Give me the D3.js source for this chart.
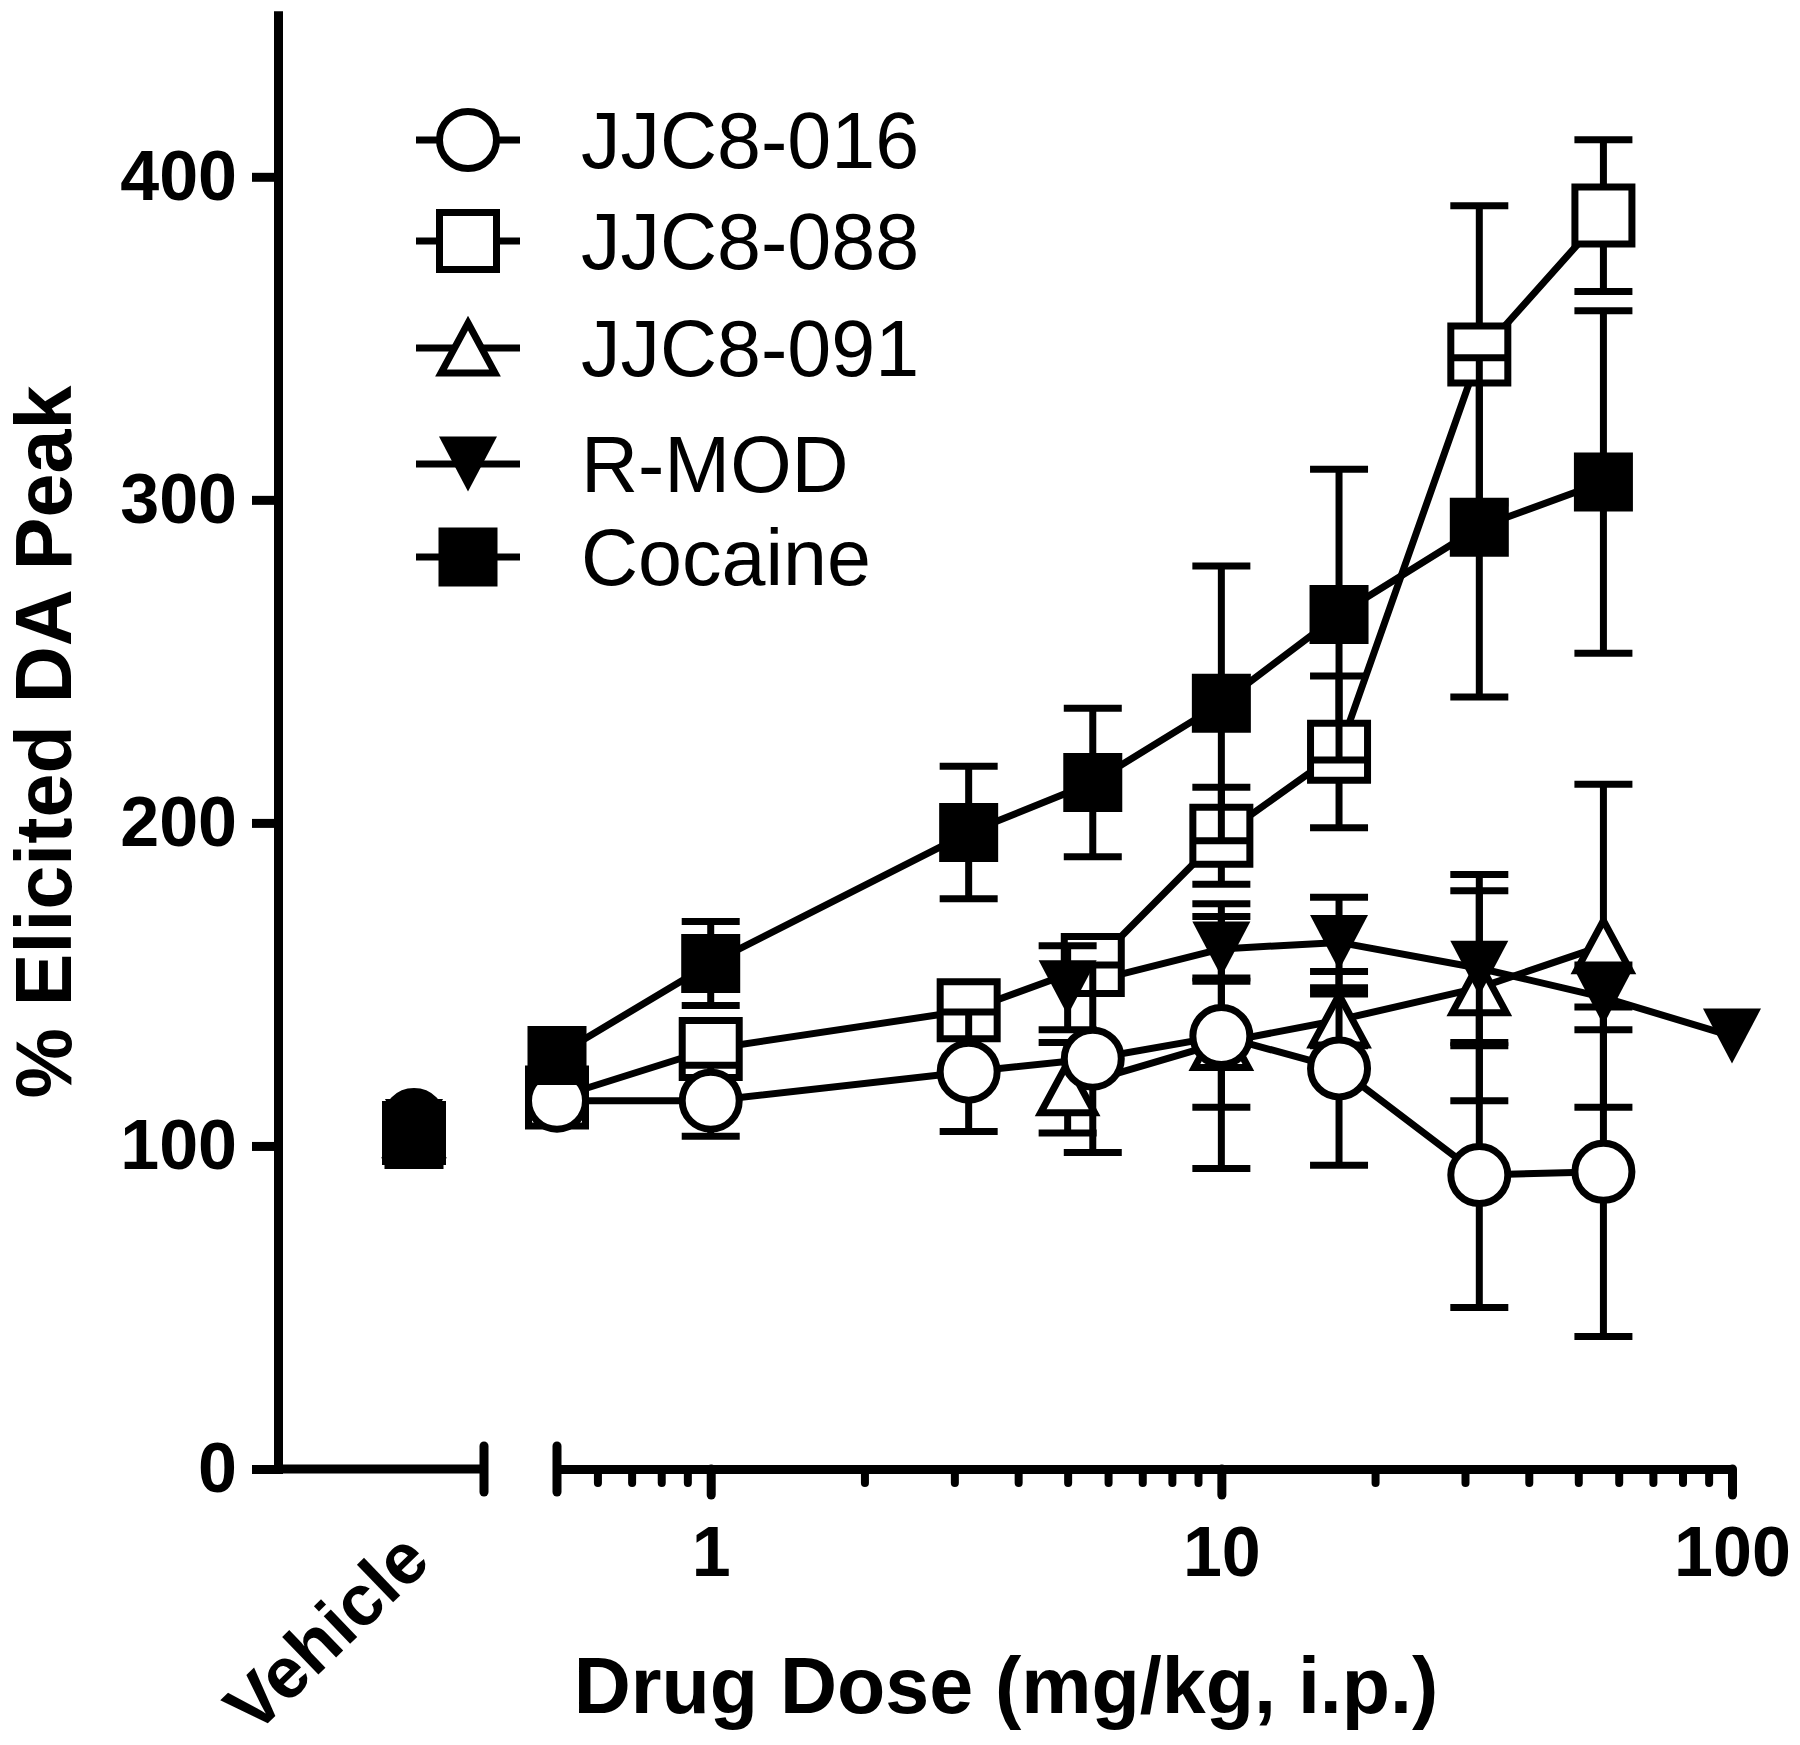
<!DOCTYPE html>
<html><head><meta charset="utf-8">
<script src="https://cdn.jsdelivr.net/npm/d3@7"></script>
<style>html,body{margin:0;padding:0;background:#fff;} svg{display:block;}</style>
</head><body>
<svg id="chart" width="1800" height="1745"></svg>
<script>
// ---------------- data ----------------
const seriesNames = ["JJC8-016", "JJC8-088", "JJC8-091", "R-MOD", "Cocaine"];
const vehicleCategory = ["Vehicle"];
const vehicleMean = [108, 104, 105, 106, 102];

const dose016 = [0.5, 1, 3.2, 5.6, 10, 17, 32, 56];
const mean016 = [114, 114, 123, 127, 134, 124, 91, 92];
const sem016  = [3, 11, 18.5, 29, 41, 30, 41, 51];

const dose088 = [0.5, 1, 3.2, 5.6, 10, 17, 32, 56];
const mean088 = [115, 130, 142, 156, 196, 222, 345, 388];
const sem088  = [3, 5, 5, 6, 15, 23.5, 46, 23.5];

const dose091 = [5, 10, 17, 32, 56];
const mean091 = [118, 132, 139, 149, 162];
const sem091  = [14, 20, 8, 35, 50];

const doseRMOD = [5, 10, 17, 32, 56, 100];
const meanRMOD = [149, 161, 163, 155, 146, 134];
const semRMOD  = [13, 10, 14, 24, 10, 0];

const doseCoc = [0.5, 1, 3.2, 5.6, 10, 17, 32, 56];
const meanCoc = [128, 156.5, 197, 212.5, 237, 264.5, 291.5, 305.5];
const semCoc  = [5, 13, 20.5, 23, 42.5, 45, 52.5, 53];

const yTickValues = [0, 100, 200, 300, 400];
const xTickValues = [1, 10, 100];
const xTickLabels = ["1", "10", "100"];
const xMinorTicks = [0.6, 0.7, 0.8, 0.9, 2, 3, 4, 5, 6, 7, 8, 9, 20, 30, 40, 50, 60, 70, 80, 90];
const yTitle = "% Elicited DA Peak";
const xTitle = "Drug Dose (mg/kg, i.p.)";

// ---------------- layout ----------------
const svg = d3.select("#chart");
svg.append("rect").attr("width", 1800).attr("height", 1745).attr("fill", "#fff");
const FONT = "'Liberation Sans', Arial, Helvetica, sans-serif";
const AX = 278, AY = 1469;
const x = d3.scaleLog().domain([0.5, 100]).range([557, 1732]);
const y = d3.scaleLinear().domain([0, 450]).range([AY, AY - 450 * 3.2305]);
const xVeh = d3.scalePoint().domain(vehicleCategory).range([344, 484]).padding(0.5);

const LW = 7, AXW = 9, CAP = 29;

// symbol path generators centered on their bbox
const sym = {
  circle: () => d3.symbol().type(d3.symbolCircle).size(Math.PI * 28.5 * 28.5)(),
  square: (s) => `M${-s/2},${-s/2}H${s/2}V${s/2}H${-s/2}Z`,
  triUp: (w, h) => `M0,${-h/2}L${w/2},${h/2}L${-w/2},${h/2}Z`,
  triDown: (w, h) => `M${-w/2},${-h/2}L${w/2},${-h/2}L0,${h/2}Z`
};
const styles = [
  { d: sym.circle(), fill: "#fff", stroke: "#000", sw: LW },
  { d: sym.square(57), fill: "#fff", stroke: "#000", sw: LW },
  { d: sym.triUp(54, 50), fill: "#fff", stroke: "#000", sw: LW },
  { d: sym.triDown(58, 55), fill: "#000", stroke: "none", sw: 0 },
  { d: sym.square(59), fill: "#000", stroke: "none", sw: 0 }
];

const series = [
  { dose: dose016, mean: mean016, sem: sem016 },
  { dose: dose088, mean: mean088, sem: sem088 },
  { dose: dose091, mean: mean091, sem: sem091 },
  { dose: doseRMOD, mean: meanRMOD, sem: semRMOD },
  { dose: doseCoc, mean: meanCoc, sem: semCoc }
].map((s, i) => ({
  name: seriesNames[i], style: styles[i], vehicle: vehicleMean[i],
  pts: s.dose.map((d, j) => ({ d, m: s.mean[j], e: s.sem[j] }))
}));

// ---------------- axes ----------------
const yAxis = d3.axisLeft(y).tickValues(yTickValues).tickSize(26).tickSizeOuter(0).tickPadding(15);
const gy = svg.append("g").attr("transform", `translate(${AX},0)`).call(yAxis);
gy.select(".domain").attr("stroke-width", AXW).attr("stroke-linecap", "square");
gy.selectAll(".tick line").attr("stroke-width", AXW);
gy.selectAll(".tick text").attr("font-family", FONT).attr("font-size", 70).attr("font-weight", "bold").attr("fill", "#000");

// left (vehicle) segment
const gl = svg.append("g");
gl.append("line").attr("x1", AX).attr("x2", xVeh.range()[1]).attr("y1", AY).attr("y2", AY)
  .attr("stroke", "#000").attr("stroke-width", AXW);
gl.append("line").attr("x1", xVeh.range()[1]).attr("x2", xVeh.range()[1]).attr("y1", AY - 23).attr("y2", AY + 23)
  .attr("stroke", "#000").attr("stroke-width", AXW).attr("stroke-linecap", "round");

// log dose axis
const xAxis = d3.axisBottom(x).tickValues(xTickValues).tickFormat((d, i) => xTickLabels[i])
  .tickSize(26).tickSizeOuter(0).tickPadding(31);
const gx = svg.append("g").attr("transform", `translate(0,${AY})`).call(xAxis);
gx.select(".domain").attr("stroke-width", AXW);
gx.selectAll(".tick line").attr("stroke-width", AXW).attr("stroke-linecap", "round");
gx.selectAll(".tick text").attr("font-family", FONT).attr("font-size", 70).attr("font-weight", "bold").attr("fill", "#000");
const xMinor = d3.axisBottom(x).tickValues(xMinorTicks).tickSize(14).tickFormat("");
const gxm = svg.append("g").attr("transform", `translate(0,${AY})`).call(xMinor);
gxm.select(".domain").remove();
gxm.selectAll(".tick line").attr("stroke-width", 8).attr("stroke-linecap", "round");
svg.append("line").attr("x1", x(0.5)).attr("x2", x(0.5)).attr("y1", AY - 23).attr("y2", AY + 23)
  .attr("stroke", "#000").attr("stroke-width", AXW).attr("stroke-linecap", "round");

// titles
svg.append("text").attr("transform", "translate(71,742) rotate(-90)").attr("text-anchor", "middle")
  .attr("font-family", FONT).attr("font-size", 79).attr("font-weight", "bold").text(yTitle);
svg.append("text").attr("x", 1006).attr("y", 1713).attr("text-anchor", "middle")
  .attr("font-family", FONT).attr("font-size", 79).attr("font-weight", "bold").text(xTitle);
svg.append("text").attr("transform", "translate(326,1632) rotate(-44)").attr("text-anchor", "middle")
  .attr("dy", "0.35em").attr("font-family", FONT).attr("font-size", 72).attr("font-weight", "bold")
  .text(vehicleCategory[0]);

// ---------------- data marks ----------------
const line = d3.line().x(p => x(p.d)).y(p => y(p.m));
const gLines = svg.append("g");
series.forEach(s => {
  gLines.append("path").attr("d", line(s.pts)).attr("fill", "none")
    .attr("stroke", "#000").attr("stroke-width", LW).attr("stroke-linejoin", "round");
});

const drawOrder = [2, 1, 3, 0, 4];
drawOrder.forEach(i => {
  const s = series[i];
  const g = svg.append("g");
  s.pts.filter(p => p.e > 0).forEach(p => {
    const cx = x(p.d), y1 = y(p.m - p.e), y2 = y(p.m + p.e);
    g.append("line").attr("x1", cx).attr("x2", cx).attr("y1", y1).attr("y2", y2)
      .attr("stroke", "#000").attr("stroke-width", LW);
    [y1, y2].forEach(yy => g.append("line").attr("x1", cx - CAP).attr("x2", cx + CAP)
      .attr("y1", yy).attr("y2", yy).attr("stroke", "#000").attr("stroke-width", LW));
  });
  g.selectAll("path.pt").data(s.pts).join("path").attr("class", "pt")
    .attr("d", s.style.d)
    .attr("transform", p => `translate(${x(p.d)},${y(p.m)})`)
    .attr("fill", s.style.fill).attr("stroke", s.style.stroke)
    .attr("stroke-width", s.style.sw).attr("stroke-linejoin", "miter");
});

// vehicle points (overlapping, drawn solid)
drawOrder.forEach(i => {
  const s = series[i];
  svg.append("path").attr("d", s.style.d)
    .attr("transform", `translate(${xVeh(vehicleCategory[0])},${y(s.vehicle)})`)
    .attr("fill", "#000").attr("stroke", "#000").attr("stroke-width", s.style.sw);
});

// ---------------- legend ----------------
const legendY = [140, 241, 348, 464, 557];
const gLeg = svg.append("g");
series.forEach((s, i) => {
  const ly = legendY[i];
  gLeg.append("line").attr("x1", 416).attr("x2", 520).attr("y1", ly).attr("y2", ly)
    .attr("stroke", "#000").attr("stroke-width", LW);
  gLeg.append("path").attr("d", s.style.d).attr("transform", `translate(468,${ly})`)
    .attr("fill", s.style.fill).attr("stroke", s.style.stroke).attr("stroke-width", s.style.sw);
  gLeg.append("text").attr("x", 581).attr("y", ly + 28).attr("font-family", FONT)
    .attr("font-size", 79).attr("fill", "#000").text(s.name);
});
</script>
</body></html>
